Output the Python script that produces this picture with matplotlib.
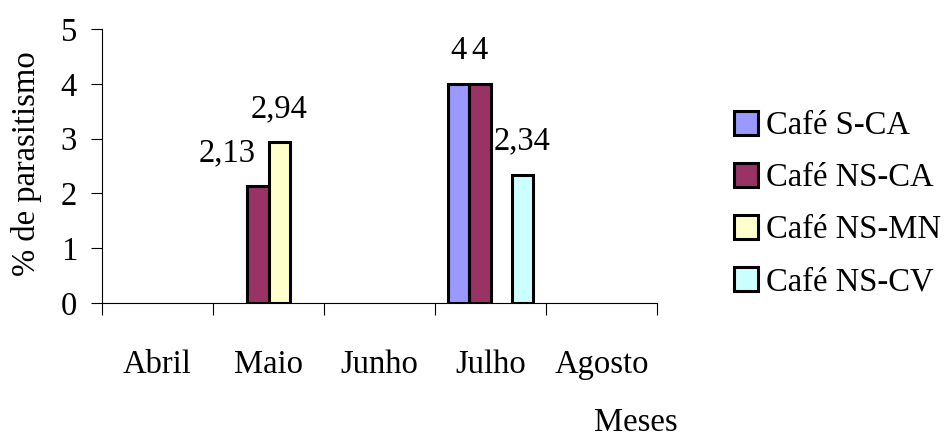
import numpy as np
import matplotlib.pyplot as plt
from matplotlib.patches import Patch

# Meses e séries de parasitismo (%)
meses = ['Abril', 'Maio', 'Junho', 'Julho', 'Agosto']
series = ['Café S-CA', 'Café NS-CA', 'Café NS-MN', 'Café NS-CV']
s_ca = [np.nan, np.nan, np.nan, 4, np.nan]
ns_ca = [np.nan, 2.13, np.nan, 4, np.nan]
ns_mn = [np.nan, 2.94, np.nan, np.nan, np.nan]
ns_cv = [np.nan, np.nan, np.nan, 2.34, np.nan]
valores = [s_ca, ns_ca, ns_mn, ns_cv]
cores = ['#9999FF', '#993366', '#FFFFCC', '#CCFFFF']

plt.rcParams['font.family'] = ['Liberation Serif', 'DejaVu Serif']
fs = 23.5

fig = plt.figure(figsize=(9.44, 4.37), dpi=100)
ax = fig.add_axes([102 / 944, 1 - 303 / 437, 555 / 944, 274 / 437])

x = np.arange(len(meses))
w = 0.19
for i, (nome, vals, cor) in enumerate(zip(series, valores, cores)):
    pos = x + (i - 1.5) * w
    ax.bar(pos, vals, width=w, color=cor, edgecolor='black', linewidth=2.2,
           label=nome, zorder=3)
    for xp, v in zip(pos, vals):
        if np.isnan(v):
            continue
        txt = f'{v:g}'.replace('.', ',')
        dx = -22 if (nome == 'Café NS-CA' and v < 3) else 0
        ax.annotate(txt, (xp, v), xytext=(dx, 24), textcoords='offset points',
                    ha='center', va='center', fontsize=fs, annotation_clip=False)

ax.set_xlim(-0.5, len(meses) - 0.5)
ax.set_ylim(0, 5)
ax.set_yticks(range(6))
ax.tick_params(axis='y', direction='out', length=8, width=0.8, pad=10, labelsize=fs)

# marcas nos limites das categorias, rótulos no centro
ax.set_xticks(np.arange(-0.5, len(meses)), labels=[''] * (len(meses) + 1))
ax.set_xticks(x, labels=meses, minor=True)
ax.tick_params(axis='x', which='major', direction='out', length=8.5, width=0.8)
ax.tick_params(axis='x', which='minor', length=0, pad=33.5, labelsize=fs)

for lado in ['top', 'right']:
    ax.spines[lado].set_visible(False)
for lado in ['left', 'bottom']:
    ax.spines[lado].set_linewidth(0.8)

fig.text(27 / 944, 1 - 164 / 437, '% de parasitismo', rotation=90,
         ha='center', va='center', fontsize=fs)
fig.text(636 / 944, 1 - 431 / 437, 'Meses', ha='center', va='baseline', fontsize=fs)

handles = [Patch(facecolor=c, edgecolor='black', linewidth=2.2) for c in cores]
fig.legend(handles, series, loc='center left', bbox_to_anchor=(734 / 944, 1 - 204 / 437),
           frameon=False, fontsize=fs, handlelength=0.74, handleheight=0.74,
           handletextpad=0.25, labelspacing=0.66, borderpad=0, borderaxespad=0)

fig.savefig('out.png', dpi=100)
